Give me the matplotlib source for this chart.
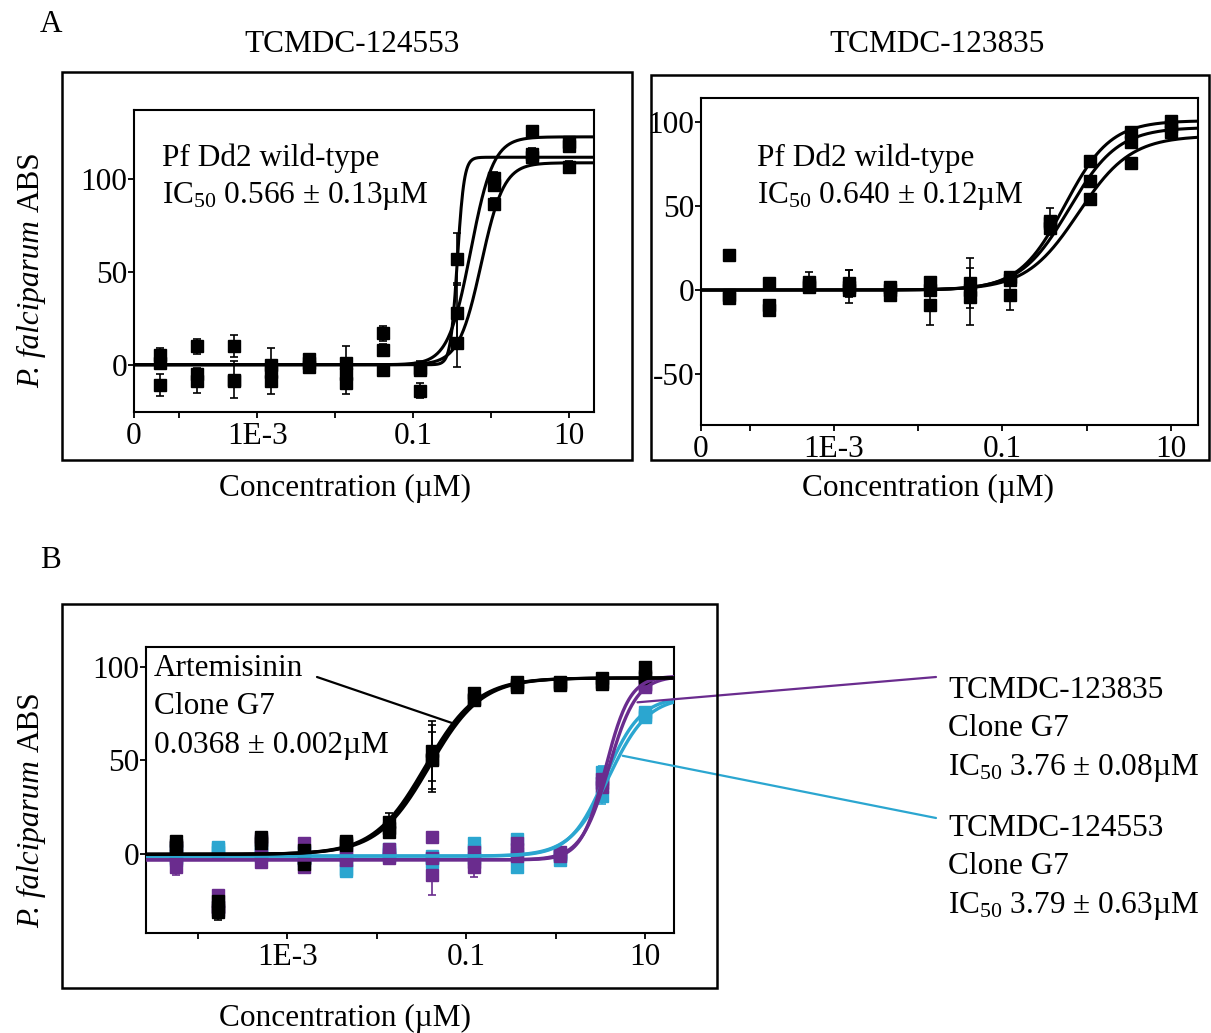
import numpy as np
import matplotlib
matplotlib.use("Agg")
import matplotlib.pyplot as plt
from matplotlib.patches import Rectangle

plt.rcParams['font.family'] = ['Liberation Serif', 'DejaVu Serif']
plt.rcParams['mathtext.fontset'] = 'custom'
plt.rcParams['mathtext.rm'] = 'Liberation Serif'
plt.rcParams['mathtext.it'] = 'Liberation Serif:italic'
FS = 22.5

W, H = 1211, 1033

# ---------------- data ----------------
conc = [0.0000565, 0.000169, 0.000508, 0.00152, 0.00457, 0.0137,
        0.0412, 0.123, 0.370, 1.11, 3.33, 10.0]

# Panel A left: TCMDC-124553, Pf Dd2 wild-type (3 replicates)
a1_rep1 = [5, 10, 10, 0, 3, 1, 17, -2, 57, 101, 126, 120]
a1_rep2 = [1, -5, -9, -4, 1, -5, 8, -3, 28, 97, 114, 118]
a1_rep3 = [-11, -9, -8, -9, -1, -10, -3, -14, 12, 87, 112, 107]
a1_err1 = [4, 4, 6, 9, 2, 9, 4, 4, 14, 3, 3, 3]
a1_err2 = [3, 3, 3, 3, 2, 3, 3, 3, 16, 3, 3, 3]
a1_err3 = [6, 6, 10, 7, 3, 6, 3, 4, 13, 3, 3, 3]
a1_top = [112, 123, 109]
a1_ic50 = [0.37, 0.55, 0.75]
a1_hill = [10, 3, 3]

# Panel A right: TCMDC-123835, Pf Dd2 wild-type
a2_rep1 = [21, 4, 5, 4, 2, 5, 4, 8, 41, 77, 94, 101]
a2_rep2 = [-3, -9, 3, 0, -3, 0, 0, 6, 40, 65, 88, 98]
a2_rep3 = [-5, -12, 2, 2, 0, -9, -4, -3, 37, 54, 76, 94]
a2_err1 = [2, 2, 6, 8, 3, 2, 15, 3, 8, 2, 2, 2]
a2_err2 = [2, 2, 2, 2, 2, 2, 3, 3, 3, 2, 2, 2]
a2_err3 = [2, 2, 2, 10, 2, 12, 17, 9, 3, 2, 2, 2]
a2_top = [101, 97, 92]
a2_ic50 = [0.55, 0.62, 0.80]
a2_hill = [1.6, 1.5, 1.4]

# Panel B: Clone G7
art_rep1 = [7, -25, 9, 2, 7, 17, 55, 86, 92, 92, 94, 100]
art_rep2 = [4, -28, 7, -2, 6, 14, 51, 83, 90, 91, 92, 95]
art_rep3 = [5, -31, 6, -5, 5, 12, 50, 82, 89, 90, 91, 94]
art_err1 = [2, 3, 2, 2, 2, 5, 16, 2, 2, 2, 2, 2]
art_err2 = [2, 3, 2, 2, 2, 4, 18, 2, 2, 2, 2, 2]
art_err3 = [2, 4, 2, 2, 2, 3, 15, 2, 2, 2, 2, 2]
art_bottom, art_top = 0, 94
art_ic50 = [0.035, 0.037, 0.039]
art_hill = [1.5, 1.5, 1.5]

pur_rep1 = [4, -22, 8, 6, 0, 3, 9, 1, 6, 0, 40, 91]
pur_rep2 = [-7, -28, 0, -7, -1, 0, -11, -7, 3, -1, 38, 90]
pur_rep3 = [-2, -30, -4, -2, -3, -2, -2, -4, -1, 1, 36, 89]
pur_err1 = [2, 3, 2, 2, 2, 2, 2, 2, 2, 2, 3, 2]
pur_err2 = [4, 3, 4, 2, 2, 2, 11, 5, 2, 2, 3, 2]
pur_err3 = [2, 3, 2, 2, 2, 2, 2, 2, 2, 2, 3, 2]
pur_bottom, pur_top = -3, 95
pur_ic50 = [3.6, 3.9]
pur_hill = [3.2, 2.8]

cya_rep1 = [2, 4, 2, 1, -3, 3, -1, 6, 8, -1, 44, 74]
cya_rep2 = [-1, 3, 0, -2, -8, 1, -4, 2, -7, -3, 31, 73]
cya_rep3 = [-3, 1, -1, -3, -9, -1, -2, -2, 0, 0, 38, 76]
cya_err1 = [2, 2, 2, 2, 2, 2, 2, 2, 2, 2, 3, 2]
cya_err2 = [2, 2, 2, 2, 3, 2, 2, 2, 2, 2, 4, 2]
cya_err3 = [2, 2, 2, 2, 2, 2, 2, 2, 2, 2, 3, 2]
cya_bottom, cya_top = -1, 84
cya_ic50 = [3.6, 3.95]
cya_hill = [2.2, 2.0]

PURPLE = '#6a2c8e'
CYAN = '#2ba6d0'

XMIN, XMAX = 10 ** -4.58, 10 ** 1.322


def fourpl(x, bottom, top, ic50, hill):
    return bottom + (top - bottom) / (1 + (ic50 / x) ** hill)


xs = np.logspace(np.log10(XMIN), np.log10(XMAX), 600)

fig = plt.figure(figsize=(W / 100, H / 100), dpi=100)


def fr(l, t, r, b):
    return [l / W, 1 - b / H, (r - l) / W, (b - t) / H]


def style_axes(ax, yticks, zero_label=True):
    ax.set_xscale('log')
    ax.set_xlim(XMIN, XMAX)
    if zero_label:
        ax.set_xticks([XMIN, 1e-3, 0.1, 10])
        ax.set_xticklabels(['0', '1E-3', '0.1', '10'])
    else:
        ax.set_xticks([1e-3, 0.1, 10])
        ax.set_xticklabels(['1E-3', '0.1', '10'])
    ax.set_xticks([1e-4, 1e-2, 1], minor=True)
    ax.xaxis.set_minor_formatter(matplotlib.ticker.NullFormatter())
    ax.set_yticks(yticks)
    ax.set_yticklabels([str(v) for v in yticks])
    for s in ax.spines.values():
        s.set_linewidth(1.5)
    ax.tick_params(axis='both', which='both', direction='out', length=4,
                   width=1.3, labelsize=FS, pad=3)
    ax.tick_params(axis='y', pad=1)


def plot_reps(ax, reps, errs, color, ms):
    for r, e in zip(reps, errs):
        ax.errorbar(conc, r, yerr=e, fmt='s', color=color, ms=ms,
                    elinewidth=1.2, capsize=3, capthick=1.2, zorder=3)


# outer boxes
for (l, t, r, b) in [(62, 72, 632, 460), (651, 75, 1209, 460), (62, 604, 717, 988)]:
    fig.add_artist(Rectangle((l / W, 1 - b / H), (r - l) / W, (b - t) / H,
                             transform=fig.transFigure, fill=False,
                             edgecolor='black', linewidth=1.8))

# ---- Panel A left ----
ax1 = fig.add_axes(fr(134, 110, 594, 412))
plot_reps(ax1, [a1_rep1, a1_rep2, a1_rep3], [a1_err1, a1_err2, a1_err3], 'black', 8)
for tp, ic, h in zip(a1_top, a1_ic50, a1_hill):
    ax1.plot(xs, fourpl(xs, 0, tp, ic, h), color='black', lw=2.2, zorder=4)
ax1.set_ylim(-25.5, 137.5)
style_axes(ax1, [0, 50, 100])

# ---- Panel A right ----
ax2 = fig.add_axes(fr(701, 98, 1198, 425))
plot_reps(ax2, [a2_rep1, a2_rep2, a2_rep3], [a2_err1, a2_err2, a2_err3], 'black', 8)
for tp, ic, h in zip(a2_top, a2_ic50, a2_hill):
    ax2.plot(xs, fourpl(xs, 0, tp, ic, h), color='black', lw=2.2, zorder=4)
ax2.set_ylim(-80.5, 114.5)
style_axes(ax2, [-50, 0, 50, 100])

# ---- Panel B ----
ax3 = fig.add_axes(fr(146, 647, 674, 933))
plot_reps(ax3, [cya_rep1, cya_rep2, cya_rep3], [cya_err1, cya_err2, cya_err3], CYAN, 8.5)
for ic, h in zip(cya_ic50, cya_hill):
    ax3.plot(xs, fourpl(xs, cya_bottom, cya_top, ic, h), color=CYAN, lw=2.4, zorder=4)
plot_reps(ax3, [pur_rep1, pur_rep2, pur_rep3], [pur_err1, pur_err2, pur_err3], PURPLE, 8.5)
for ic, h in zip(pur_ic50, pur_hill):
    ax3.plot(xs, fourpl(xs, pur_bottom, pur_top, ic, h), color=PURPLE, lw=2.4, zorder=4)
plot_reps(ax3, [art_rep1, art_rep2, art_rep3], [art_err1, art_err2, art_err3], 'black', 8.5)
for ic, h in zip(art_ic50, art_hill):
    ax3.plot(xs, fourpl(xs, art_bottom, art_top, ic, h), color='black', lw=2.2, zorder=5)
ax3.set_ylim(-42, 110.5)
style_axes(ax3, [0, 50, 100], zero_label=False)


# leader lines in panel B
def leader(xd, yd, px, py, color):
    ax3.annotate('', xy=(xd, yd), xycoords='data',
                 xytext=(px / W, 1 - py / H), textcoords='figure fraction',
                 arrowprops=dict(arrowstyle='-', color=color, lw=1.6,
                                 shrinkA=0, shrinkB=0),
                 annotation_clip=False, zorder=6)


leader(0.069, 70, 317, 677, 'black')
leader(8.2, 81, 936, 677, PURPLE)
leader(5.6, 52.5, 936, 818, CYAN)


def ftext(x, y, s, ha='left', **kw):
    return fig.text(x / W, 1 - y / H, s, ha=ha, va='center', fontsize=FS, **kw)


ftext(40, 25, 'A')
ftext(40, 560, 'B')
ftext(352, 45, 'TCMDC-124553', ha='center')
ftext(937, 45, 'TCMDC-123835', ha='center')

ftext(162, 158, 'Pf Dd2 wild-type')
ftext(162, 196, r'IC$_{50}$ 0.566 ± 0.13µM')
ftext(757, 158, 'Pf Dd2 wild-type')
ftext(757, 196, r'IC$_{50}$ 0.640 ± 0.12µM')

ftext(154, 669, 'Artemisinin')
ftext(154, 707, 'Clone G7')
ftext(154, 745, '0.0368 ± 0.002µM')

ftext(948, 690, 'TCMDC-123835')
ftext(948, 728, 'Clone G7')
ftext(948, 768, r'IC$_{50}$ 3.76 ± 0.08µM')
ftext(948, 829, 'TCMDC-124553')
ftext(948, 867, 'Clone G7')
ftext(948, 906, r'IC$_{50}$ 3.79 ± 0.63µM')

ftext(345, 488, 'Concentration (µM)', ha='center')
ftext(928, 488, 'Concentration (µM)', ha='center')
ftext(345, 1018, 'Concentration (µM)', ha='center')

# y labels: italic "P. falciparum" followed by upright "ABS", rotated
renderer = fig.canvas.get_renderer()
for y_start in (388, 928):
    base_x = 39
    t1 = fig.text(base_x / W, 1 - y_start / H, 'P. falciparum ', fontsize=FS,
                  style='italic', rotation=90, rotation_mode='anchor',
                  ha='left', va='baseline')
    ext = t1.get_window_extent(renderer=renderer)
    y2 = y_start - ext.height
    fig.text(base_x / W, 1 - y2 / H, 'ABS', fontsize=FS,
             rotation=90, rotation_mode='anchor', ha='left', va='baseline')

fig.savefig('out.png', dpi=100)
